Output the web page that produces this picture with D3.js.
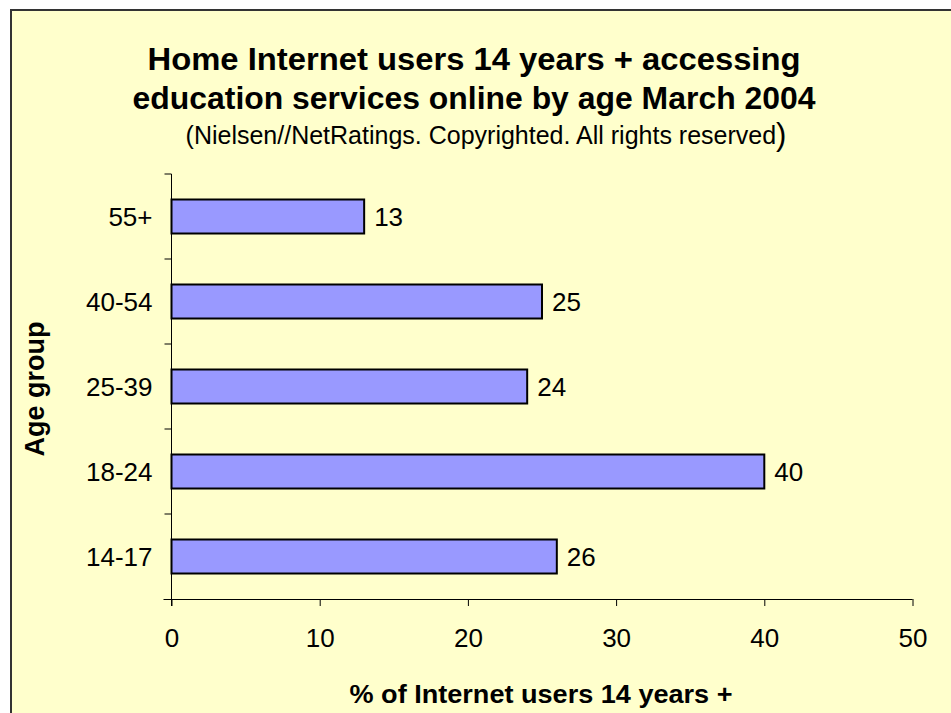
<!DOCTYPE html>
<html>
<head>
<meta charset="utf-8">
<script src="https://cdn.jsdelivr.net/npm/d3@7"></script>
<style>
  html, body { margin: 0; padding: 0; background: #ffffff; }
  svg { display: block; }
</style>
</head>
<body>
<svg id="chart" width="951" height="713"></svg>
<script>
// Share of home Internet users (14+) accessing education services, by age group
const categories = ["55+", "40-54", "25-39", "18-24", "14-17"];
const values = [13, 25, 24, 40, 26];
const xTicks = [0, 10, 20, 30, 40, 50];

const titleLines = [
  "Home Internet users 14 years + accessing",
  "education services online by age March 2004"
];
const subtitle = "(Nielsen//NetRatings. Copyrighted. All rights reserved";
const xTitle = "% of Internet users 14 years +";
const yTitle = "Age group";

const W = 951, H = 713;
const font = "'Liberation Sans', Arial, sans-serif";
const svg = d3.select("#chart");

// chart area panel
svg.append("rect")
  .attr("x", 11).attr("y", 10)
  .attr("width", W).attr("height", H)
  .attr("fill", "#ffffcc")
  .attr("stroke", "#333333").attr("stroke-width", 2);

const plot = { left: 171.5, right: 912.5, top: 174, bottom: 599 };

const x = d3.scaleLinear().domain([0, 50]).range([plot.left, plot.right]);
const y = d3.scaleBand().domain(categories)
  .range([plot.top, plot.bottom]).paddingInner(0.6).paddingOuter(0.3);

// titles
const titleWidths = [653, 683];
const title = svg.append("text")
  .attr("text-anchor", "middle")
  .attr("font-family", font).attr("font-weight", "bold")
  .attr("font-size", 32).attr("fill", "#000");
title.selectAll("tspan").data(titleLines).join("tspan")
  .attr("x", 474).attr("y", (d, i) => 70 + i * 39)
  .attr("textLength", (d, i) => titleWidths[i])
  .attr("lengthAdjust", "spacingAndGlyphs")
  .text(d => d);

const sub = svg.append("text")
  .attr("x", 486).attr("y", 144)
  .attr("text-anchor", "middle")
  .attr("font-family", font).attr("font-size", 25)
  .attr("fill", "#000");
sub.append("tspan").text(subtitle);
sub.append("tspan").attr("font-size", 31).attr("dy", 1).text(")");

// bars
svg.append("g").selectAll("rect").data(values).join("rect")
  .attr("x", x(0))
  .attr("y", (d, i) => y(categories[i]))
  .attr("width", d => x(d) - x(0))
  .attr("height", y.bandwidth())
  .attr("fill", "#9999ff")
  .attr("stroke", "#000").attr("stroke-width", 2);

// value labels
svg.append("g").selectAll("text").data(values).join("text")
  .attr("x", d => x(d) + 10)
  .attr("y", (d, i) => y(categories[i]) + y.bandwidth() / 2)
  .attr("dy", "0.36em")
  .attr("font-family", font).attr("font-size", 26)
  .attr("fill", "#000")
  .text(d => d);

// x axis
const xAxis = svg.append("g")
  .attr("transform", `translate(0,${plot.bottom})`)
  .call(d3.axisBottom(x).tickValues(xTicks).tickSize(7).tickPadding(23).tickSizeOuter(0));
xAxis.select(".domain").attr("d", `M${plot.left - 8},0.5H${plot.right}`);
xAxis.selectAll("line").attr("stroke", "#000");
xAxis.select(".domain").attr("stroke", "#000");
xAxis.selectAll("text")
  .attr("font-family", font).attr("font-size", 26).attr("fill", "#000");

// y axis: ticks fall on category boundaries
const yAxis = svg.append("g")
  .attr("transform", `translate(${plot.left},0)`);
yAxis.append("line")
  .attr("x1", 0).attr("x2", 0)
  .attr("y1", plot.top).attr("y2", plot.bottom + 7)
  .attr("stroke", "#000");
const step = (plot.bottom - plot.top) / categories.length;
yAxis.selectAll("line.tick").data(d3.range(categories.length)).join("line")
  .attr("class", "tick")
  .attr("x1", -7).attr("x2", 0)
  .attr("y1", i => plot.top + i * step).attr("y2", i => plot.top + i * step)
  .attr("stroke", "#000");
yAxis.selectAll("text").data(categories).join("text")
  .attr("x", -19)
  .attr("y", d => y(d) + y.bandwidth() / 2)
  .attr("dy", "0.36em")
  .attr("text-anchor", "end")
  .attr("font-family", font).attr("font-size", 26)
  .attr("fill", "#000")
  .text(d => d);

// axis titles
svg.append("text")
  .attr("x", 541).attr("y", 703)
  .attr("text-anchor", "middle")
  .attr("font-family", font).attr("font-weight", "bold").attr("font-size", 25)
  .attr("textLength", 383).attr("lengthAdjust", "spacingAndGlyphs")
  .attr("fill", "#000")
  .text(xTitle);

svg.append("text")
  .attr("transform", "translate(44,389) rotate(-90)")
  .attr("text-anchor", "middle")
  .attr("font-family", font).attr("font-weight", "bold").attr("font-size", 27)
  .attr("fill", "#000")
  .text(yTitle);
</script>
</body>
</html>
